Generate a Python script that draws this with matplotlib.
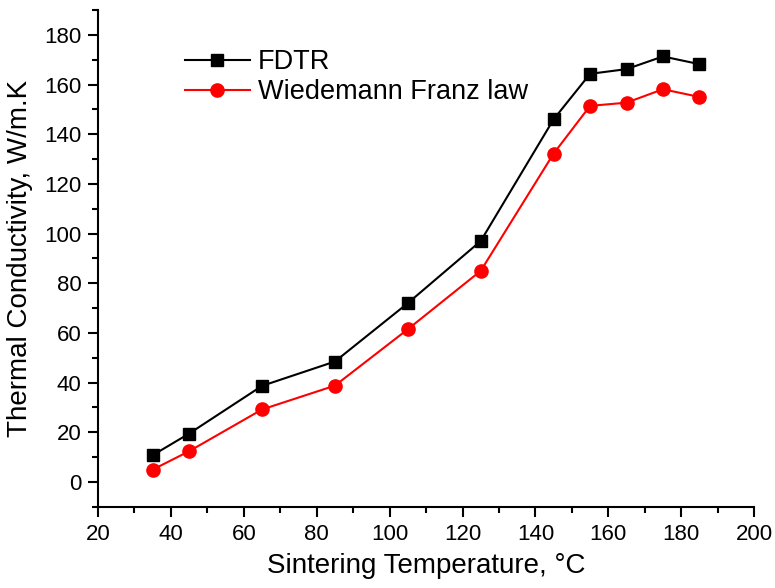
import matplotlib.pyplot as plt

plt.rcParams['font.family'] = ['Liberation Sans', 'DejaVu Sans']

temps = [35, 45, 65, 85, 105, 125, 145, 155, 165, 175, 185]
fdtr = [10.8, 19.5, 38.7, 48.5, 72, 97, 146, 164.3, 166.2, 171.3, 168.2]
wf = [5.0, 12.4, 29.2, 38.8, 61.5, 85, 132.2, 151.4, 152.7, 158.1, 155]

fig = plt.figure(figsize=(7.75, 5.88), dpi=100)
ax = fig.add_axes([0.1265, 0.138, 0.8465, 0.845])

ax.plot(temps, fdtr, color='black', marker='s', markersize=8.5, lw=1.5, label='FDTR')
ax.plot(temps, wf, color='red', marker='o', markersize=9.5, lw=1.5, label='Wiedemann Franz law')

ax.set_xlim(20, 200)
ax.set_ylim(-10, 190)
ax.set_xticks(range(20, 201, 20))
ax.set_xticks(range(30, 200, 20), minor=True)
ax.set_yticks(range(0, 181, 20))
ax.set_yticks(range(-10, 191, 20), minor=True)
ax.tick_params(which='major', direction='out', length=7, width=1.5, labelsize=16, pad=5)
ax.tick_params(which='minor', direction='out', length=4, width=1.5)
for s in ['top', 'right']:
    ax.spines[s].set_visible(False)
for s in ['left', 'bottom']:
    ax.spines[s].set_linewidth(1.5)

ax.set_xlabel('Sintering Temperature, °C', fontsize=20, labelpad=6)
ax.set_ylabel('Thermal Conductivity, W/m.K', fontsize=20, labelpad=8)

ax.legend(loc='upper left', bbox_to_anchor=(0.095, 0.97), frameon=False, fontsize=19.5,
          handlelength=2.4, handletextpad=0.3, labelspacing=0.15)

fig.savefig('out.png')
